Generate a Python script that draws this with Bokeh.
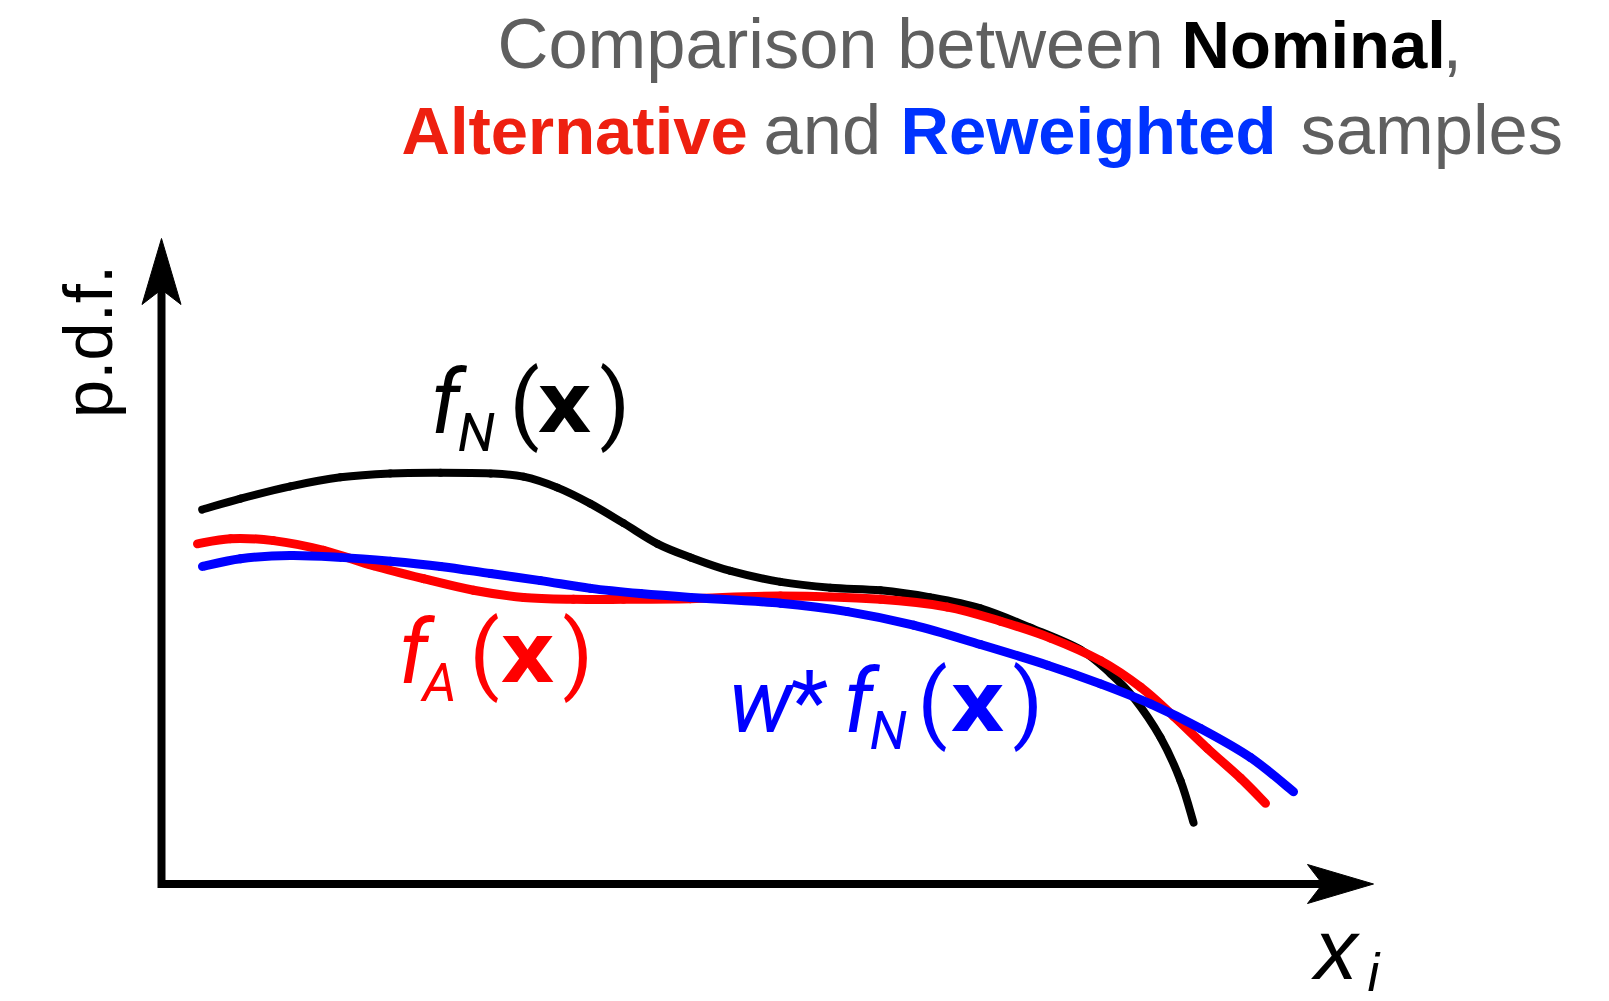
import numpy as np
from bokeh.plotting import figure
from bokeh.models import Range1d
from bokeh.core.properties import value
from bokeh.embed import file_html
from bokeh.resources import INLINE

# ---- curves: position along x_i (axis units, axis runs 0..10) and p.d.f. height (axis runs 0..1)
x_nominal = [0.336, 0.652, 1.064, 1.477, 1.889, 2.302, 2.715, 2.987, 3.267, 3.540, 3.812,
             4.093, 4.365, 4.695, 5.107, 5.520, 5.932, 6.345, 6.757, 7.170, 7.583, 7.830,
             8.020, 8.243, 8.408, 8.515]
pdf_nominal = [0.580, 0.597, 0.616, 0.630, 0.636, 0.637, 0.636, 0.631, 0.614, 0.589, 0.559,
               0.527, 0.506, 0.485, 0.468, 0.459, 0.455, 0.444, 0.427, 0.397, 0.363, 0.326,
               0.289, 0.227, 0.160, 0.095]

x_alternative = [0.297, 0.569, 0.924, 1.337, 1.749, 2.162, 2.574, 2.987, 3.399, 3.812, 4.365,
                 5.107, 5.932, 6.485, 6.922, 7.335, 7.748, 8.078, 8.350, 8.630, 8.903, 9.109]
pdf_alternative = [0.527, 0.535, 0.532, 0.517, 0.493, 0.473, 0.455, 0.444, 0.441, 0.441, 0.442,
                   0.446, 0.441, 0.429, 0.407, 0.381, 0.346, 0.305, 0.260, 0.210, 0.164, 0.125]

x_reweighted = [0.338, 0.652, 1.064, 1.477, 1.889, 2.302, 2.715, 3.127, 3.540, 3.952, 4.365,
                5.107, 5.660, 6.205, 6.757, 7.310, 7.748, 8.160, 8.573, 8.985, 9.340]
pdf_reweighted = [0.492, 0.504, 0.509, 0.506, 0.500, 0.492, 0.481, 0.470, 0.458, 0.450, 0.444,
                  0.435, 0.422, 0.401, 0.371, 0.339, 0.310, 0.279, 0.241, 0.196, 0.143]

X_AXIS_END = 10.0
Y_AXIS_END = 1.0

# ---- canvas geometry
W, H = 1609, 1001
ORIGIN_PX = (161.0, 883.5)
PX_PER_X = 121.2
PX_PER_Y = 645.5


def dx(px):
    return (px - ORIGIN_PX[0]) / PX_PER_X


def dy(py):
    return (ORIGIN_PX[1] - py) / PX_PER_Y


p = figure(width=W, height=H,
           x_range=Range1d(dx(0), dx(W)), y_range=Range1d(dy(H), dy(0)),
           output_backend="svg", toolbar_location=None,
           x_axis_location=None, y_axis_location=None, min_border=0)
p.grid.visible = False
p.outline_line_color = None
p.background_fill_color = "white"
p.border_fill_color = "white"

# ---- axes with dart-shaped arrowheads
HEAD_LEN, HEAD_HALF, HEAD_NOTCH = 66, 19.5, 15
p.line([0, 0, X_AXIS_END - 40 / PX_PER_X], [Y_AXIS_END - 40 / PX_PER_Y, 0, 0],
       line_color="black", line_width=8, line_join="miter", line_cap="butt")
p.patch([X_AXIS_END, X_AXIS_END - HEAD_LEN / PX_PER_X,
         X_AXIS_END - (HEAD_LEN - HEAD_NOTCH) / PX_PER_X, X_AXIS_END - HEAD_LEN / PX_PER_X],
        [0, HEAD_HALF / PX_PER_Y, 0, -HEAD_HALF / PX_PER_Y],
        fill_color="black", line_color="black", line_width=1)
p.patch([0, HEAD_HALF / PX_PER_X, 0, -HEAD_HALF / PX_PER_X],
        [Y_AXIS_END, Y_AXIS_END - HEAD_LEN / PX_PER_Y,
         Y_AXIS_END - (HEAD_LEN - HEAD_NOTCH) / PX_PER_Y, Y_AXIS_END - HEAD_LEN / PX_PER_Y],
        fill_color="black", line_color="black", line_width=1)


def smooth_line(xs, ys, color, width):
    """Draw a smooth curve through the points as Catmull-Rom cubic Bezier pieces."""
    xs = np.asarray(xs, float)
    ys = np.asarray(ys, float)
    n = len(xs)
    i = np.arange(n - 1)
    i0 = np.maximum(i - 1, 0)
    i3 = np.minimum(i + 2, n - 1)
    p.bezier(x0=xs[i], y0=ys[i], x1=xs[i + 1], y1=ys[i + 1],
             cx0=xs[i] + (xs[i + 1] - xs[i0]) / 6, cy0=ys[i] + (ys[i + 1] - ys[i0]) / 6,
             cx1=xs[i + 1] - (xs[i3] - xs[i]) / 6, cy1=ys[i + 1] - (ys[i3] - ys[i]) / 6,
             line_color=color, line_width=width, line_cap="round")


# ---- the three distributions
smooth_line(x_nominal, pdf_nominal, "black", 8)
smooth_line(x_alternative, pdf_alternative, "#ff0000", 9)
smooth_line(x_reweighted, pdf_reweighted, "#0000ff", 9)

# half the ascent-minus-descent of each face, used to sit text on its baseline
BASE_SHIFT = {"Liberation Sans": 0.347, "Roboto": 0.342, "DejaVu Sans": 0.346}


def put(txt, px, py, size, color, style="normal", font="Roboto", align="left", vertical=False):
    shift = BASE_SHIFT[font] * size
    if vertical:
        x, y, angle = dx(px - shift), dy(py), np.pi / 2
    else:
        x, y, angle = dx(px), dy(py - shift), 0.0
    p.text(x=[x], y=[y], text=[txt], text_font=value(font),
           text_font_size=f"{size}px", text_font_style=style, text_color=color,
           text_baseline="alphabetic", text_align=align, angle=angle)


# ---- title, two lines of coloured words
GRAY, TRED, TBLUE = "#5f5f5f", "#ee2010", "#0033ff"
TF = "Liberation Sans"
put("Comparison between", 497, 67, 70.5, GRAY, font=TF)
put("Nominal", 1181, 67, 67, "black", "bold", font=TF)
put(",", 1442, 67, 70.5, GRAY, font=TF)
put("Alternative", 401, 153, 67, TRED, "bold", font=TF)
put("and", 763, 153, 70.5, GRAY, font=TF)
put("Reweighted", 900, 153, 67, TBLUE, "bold", font=TF)
put("samples", 1300, 153, 70.5, GRAY, font=TF)

# ---- axis titles
put("p.d.f.", 112, 341, 69, "black", font=TF, align="center", vertical=True)
put("x", 1314, 978, 86, "black", "italic", font=TF)
put("i", 1367, 990, 53, "black", "italic", font=TF)

# ---- curve labels: italic symbol, italic subscript, bold vector argument
M, S, B = 88, 54, 84


def fx_label(color, pieces):
    for txt, px, py, size, style in pieces:
        font = "DejaVu Sans" if style == "bold" else "Roboto"
        put(txt, px, py, size, color, style, font=font)


fx_label("black", [("f", 430, 432, M, "italic"), ("N", 457, 450, S, "italic"),
                   ("(", 509, 432, M, "normal"), ("x", 537, 432, B, "bold"),
                   (")", 599, 432, M, "normal")])
fx_label("#ff0000", [("f", 398, 682, M, "italic"), ("A", 422, 700, S, "italic"),
                     ("(", 469, 682, M, "normal"), ("x", 500, 682, B, "bold"),
                     (")", 562, 682, M, "normal")])
fx_label("#0000ff", [("w", 728, 731, M, "italic"), ("*", 790, 731, M, "normal"),
                     ("f", 843, 731, M, "italic"), ("N", 869, 748, S, "italic"),
                     ("(", 917, 731, M, "normal"), ("x", 950, 731, B, "bold"),
                     (")", 1012, 731, M, "normal")])

open("out.html", "w").write(file_html(p, INLINE))
